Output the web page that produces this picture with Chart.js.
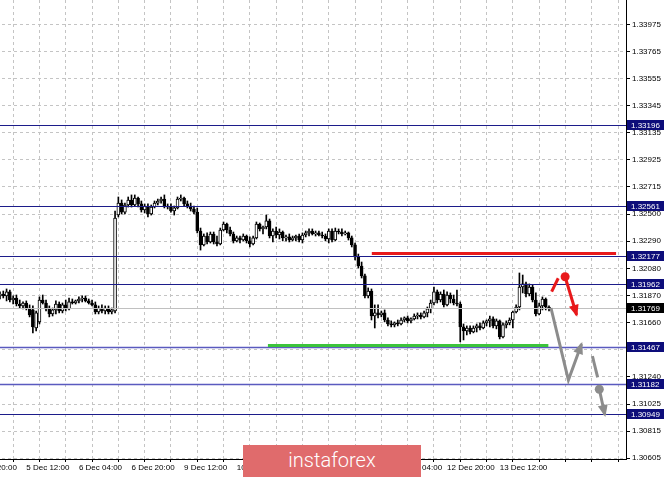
<!DOCTYPE html>
<html>
<head>
<meta charset="utf-8">
<title>H1 chart with levels</title>
<script src="https://cdn.jsdelivr.net/npm/chart.js@4.4.1/dist/chart.umd.min.js"></script>
<style>
  html, body { margin: 0; padding: 0; background: #fff; overflow: hidden; }
  #wrap { position: relative; width: 665px; height: 477px; overflow: hidden; }
  /* canvas starts 40px left of the window so the first, cut-off time label shows like in the terminal */
  #chartBox { position: absolute; left: -40px; top: 0; width: 705px; height: 477px; }
  #brand {
    position: absolute; left: 243px; top: 445px; width: 178px; height: 32px;
    background: #e06b6c; color: #fff; text-align: center; line-height: 31px;
    font-family: Roboto, sans-serif; font-weight: 300; font-size: 20px;
  }
</style>
</head>
<body>
<div id="wrap">
  <div id="chartBox"><canvas id="priceChart"></canvas></div>
  <div id="brand">instaforex</div>
</div>
<script>
// hourly candles, bar 0 = first bar on screen
const opens = [
    1.31866, 1.31881, 1.31866, 1.31897, 1.31834, 1.31850, 1.31803, 1.31788, 1.31811, 1.31772,
    1.31757, 1.31617, 1.31664, 1.31834, 1.31811, 1.31765, 1.31726, 1.31757, 1.31803, 1.31749,
    1.31796, 1.31765, 1.31819, 1.31811, 1.31827, 1.31842, 1.31850, 1.31827, 1.31811, 1.31796,
    1.31741, 1.31772, 1.31749, 1.31772, 1.31741, 1.31749, 1.32494, 1.32587, 1.32517, 1.32572,
    1.32611, 1.32572, 1.32626, 1.32580, 1.32533, 1.32564, 1.32502, 1.32556, 1.32587, 1.32603,
    1.32618, 1.32564, 1.32556, 1.32525, 1.32549, 1.32618, 1.32626, 1.32580, 1.32564, 1.32541,
    1.32517, 1.32370, 1.32262, 1.32331, 1.32285, 1.32347, 1.32285, 1.32269, 1.32378, 1.32424,
    1.32378, 1.32347, 1.32293, 1.32316, 1.32300, 1.32331, 1.32293, 1.32269, 1.32316, 1.32424,
    1.32386, 1.32401, 1.32448, 1.32331, 1.32370, 1.32339, 1.32362, 1.32316, 1.32324, 1.32300,
    1.32316, 1.32331, 1.32300, 1.32339, 1.32355, 1.32370, 1.32347, 1.32355, 1.32339, 1.32331,
    1.32308, 1.32370, 1.32300, 1.32370, 1.32362, 1.32347, 1.32355, 1.32316, 1.32262, 1.32168,
    1.32098, 1.32021, 1.31866, 1.31904, 1.31710, 1.31734, 1.31718, 1.31734, 1.31679, 1.31648,
    1.31641, 1.31656, 1.31648, 1.31679, 1.31695, 1.31672, 1.31687, 1.31710, 1.31718, 1.31703,
    1.31734, 1.31765, 1.31811, 1.31897, 1.31834, 1.31881, 1.31796, 1.31873, 1.31842, 1.31811,
    1.31803, 1.31625, 1.31594, 1.31617, 1.31586, 1.31617, 1.31633, 1.31617, 1.31656, 1.31672,
    1.31687, 1.31633, 1.31672, 1.31548, 1.31641, 1.31656, 1.31679, 1.31741, 1.31780, 1.31935,
    1.31959, 1.31881, 1.31935, 1.31834, 1.31726, 1.31788, 1.31842, 1.31780
];
const highs = [
    1.31897, 1.31904, 1.31920, 1.31912, 1.31866, 1.31873, 1.31834, 1.31819, 1.31827, 1.31796,
    1.31788, 1.31749, 1.31858, 1.31873, 1.31834, 1.31788, 1.31772, 1.31827, 1.31819, 1.31811,
    1.31834, 1.31850, 1.31842, 1.31834, 1.31858, 1.31866, 1.31866, 1.31842, 1.31834, 1.31819,
    1.31788, 1.31796, 1.31788, 1.31788, 1.31772, 1.32525, 1.32634, 1.32611, 1.32587, 1.32634,
    1.32650, 1.32650, 1.32634, 1.32603, 1.32580, 1.32580, 1.32572, 1.32603, 1.32618, 1.32634,
    1.32650, 1.32580, 1.32580, 1.32564, 1.32634, 1.32650, 1.32634, 1.32603, 1.32587, 1.32564,
    1.32549, 1.32393, 1.32347, 1.32355, 1.32362, 1.32362, 1.32331, 1.32393, 1.32440, 1.32432,
    1.32401, 1.32362, 1.32331, 1.32331, 1.32347, 1.32339, 1.32324, 1.32331, 1.32440, 1.32432,
    1.32409, 1.32494, 1.32463, 1.32386, 1.32401, 1.32386, 1.32370, 1.32339, 1.32347, 1.32331,
    1.32339, 1.32347, 1.32355, 1.32370, 1.32386, 1.32386, 1.32370, 1.32370, 1.32362, 1.32347,
    1.32386, 1.32386, 1.32393, 1.32386, 1.32386, 1.32370, 1.32362, 1.32331, 1.32277, 1.32191,
    1.32129, 1.32036, 1.31928, 1.31920, 1.31796, 1.31796, 1.31749, 1.31757, 1.31695, 1.31672,
    1.31664, 1.31679, 1.31695, 1.31703, 1.31710, 1.31695, 1.31726, 1.31734, 1.31734, 1.31749,
    1.31780, 1.31834, 1.31935, 1.31912, 1.31897, 1.31912, 1.31897, 1.31889, 1.31873, 1.31912,
    1.31819, 1.31648, 1.31633, 1.31633, 1.31633, 1.31648, 1.31656, 1.31672, 1.31679, 1.31710,
    1.31703, 1.31687, 1.31679, 1.31656, 1.31672, 1.31695, 1.31749, 1.31796, 1.32044, 1.32028,
    1.31974, 1.31959, 1.31951, 1.31889, 1.31811, 1.31858, 1.31850, 1.31788
];
const lows = [
    1.31842, 1.31850, 1.31827, 1.31819, 1.31803, 1.31788, 1.31772, 1.31765, 1.31757, 1.31703,
    1.31579, 1.31594, 1.31648, 1.31803, 1.31749, 1.31703, 1.31710, 1.31726, 1.31734, 1.31734,
    1.31749, 1.31757, 1.31803, 1.31803, 1.31811, 1.31819, 1.31819, 1.31803, 1.31788, 1.31726,
    1.31726, 1.31734, 1.31726, 1.31726, 1.31726, 1.31734, 1.32479, 1.32502, 1.32502, 1.32556,
    1.32556, 1.32564, 1.32556, 1.32517, 1.32510, 1.32479, 1.32494, 1.32549, 1.32572, 1.32587,
    1.32549, 1.32541, 1.32517, 1.32494, 1.32541, 1.32603, 1.32564, 1.32549, 1.32525, 1.32502,
    1.32355, 1.32222, 1.32254, 1.32269, 1.32277, 1.32269, 1.32254, 1.32262, 1.32370, 1.32355,
    1.32331, 1.32277, 1.32285, 1.32277, 1.32293, 1.32277, 1.32246, 1.32262, 1.32308, 1.32370,
    1.32347, 1.32386, 1.32316, 1.32285, 1.32316, 1.32308, 1.32293, 1.32293, 1.32285, 1.32293,
    1.32293, 1.32285, 1.32277, 1.32324, 1.32331, 1.32339, 1.32331, 1.32331, 1.32316, 1.32293,
    1.32277, 1.32285, 1.32293, 1.32347, 1.32331, 1.32339, 1.32300, 1.32246, 1.32145, 1.32083,
    1.32005, 1.31850, 1.31850, 1.31679, 1.31617, 1.31695, 1.31703, 1.31664, 1.31633, 1.31625,
    1.31625, 1.31633, 1.31641, 1.31664, 1.31656, 1.31656, 1.31679, 1.31687, 1.31687, 1.31695,
    1.31703, 1.31734, 1.31796, 1.31811, 1.31819, 1.31780, 1.31788, 1.31811, 1.31796, 1.31788,
    1.31509, 1.31524, 1.31563, 1.31571, 1.31579, 1.31586, 1.31602, 1.31610, 1.31633, 1.31625,
    1.31617, 1.31610, 1.31532, 1.31540, 1.31617, 1.31641, 1.31617, 1.31734, 1.31757, 1.31889,
    1.31858, 1.31866, 1.31819, 1.31710, 1.31718, 1.31757, 1.31757, 1.31749
];
const closes = [
    1.31881, 1.31866, 1.31897, 1.31834, 1.31850, 1.31803, 1.31788, 1.31811, 1.31772, 1.31718,
    1.31625, 1.31734, 1.31834, 1.31811, 1.31765, 1.31726, 1.31757, 1.31803, 1.31749, 1.31796,
    1.31765, 1.31819, 1.31811, 1.31827, 1.31842, 1.31850, 1.31827, 1.31811, 1.31796, 1.31741,
    1.31772, 1.31749, 1.31772, 1.31741, 1.31757, 1.32471, 1.32587, 1.32517, 1.32572, 1.32611,
    1.32572, 1.32626, 1.32580, 1.32533, 1.32564, 1.32502, 1.32556, 1.32587, 1.32603, 1.32618,
    1.32564, 1.32556, 1.32525, 1.32549, 1.32618, 1.32626, 1.32580, 1.32564, 1.32541, 1.32517,
    1.32370, 1.32262, 1.32331, 1.32285, 1.32347, 1.32285, 1.32269, 1.32378, 1.32424, 1.32378,
    1.32347, 1.32293, 1.32316, 1.32300, 1.32331, 1.32293, 1.32269, 1.32316, 1.32424, 1.32386,
    1.32401, 1.32448, 1.32331, 1.32370, 1.32339, 1.32362, 1.32316, 1.32324, 1.32300, 1.32316,
    1.32331, 1.32300, 1.32339, 1.32355, 1.32370, 1.32347, 1.32355, 1.32339, 1.32331, 1.32308,
    1.32370, 1.32300, 1.32370, 1.32362, 1.32347, 1.32355, 1.32316, 1.32262, 1.32168, 1.32098,
    1.32021, 1.31866, 1.31904, 1.31710, 1.31734, 1.31718, 1.31734, 1.31679, 1.31648, 1.31641,
    1.31656, 1.31648, 1.31679, 1.31695, 1.31672, 1.31687, 1.31710, 1.31718, 1.31703, 1.31734,
    1.31765, 1.31811, 1.31897, 1.31834, 1.31881, 1.31796, 1.31873, 1.31842, 1.31811, 1.31803,
    1.31625, 1.31594, 1.31617, 1.31586, 1.31617, 1.31633, 1.31617, 1.31656, 1.31672, 1.31687,
    1.31633, 1.31672, 1.31548, 1.31641, 1.31656, 1.31679, 1.31741, 1.31780, 1.31935, 1.31959,
    1.31881, 1.31935, 1.31834, 1.31726, 1.31788, 1.31842, 1.31780, 1.31769
];

const priceTicks = [
    1.33975, 1.33765, 1.33555, 1.33345, 1.33135, 1.32925, 1.32715, 1.32500, 1.32290,
    1.32080, 1.31870, 1.31660, 1.31450, 1.31240, 1.31025, 1.30815, 1.30605
];
const timeLabels = [
    '4 Dec 20:00', '5 Dec 12:00', '6 Dec 04:00', '6 Dec 20:00', '9 Dec 12:00', '10 Dec 04:00',
    '10 Dec 20:00', '11 Dec 12:00', '12 Dec 04:00', '12 Dec 20:00', '13 Dec 12:00'
];
const firstLabelBar = -8;   // bar index of '4 Dec 20:00'
const barsPerGrid = 8;

// horizontal levels
const levels = [1.33196, 1.32561, 1.32177, 1.31962, 1.31467, 1.31182, 1.30949];
const softLevels = [1.31467, 1.31182];
const lastPrice = 1.31769;

// drawn objects, [bar, price]
const redLine = [[113.1, 1.32195], [187.4, 1.32195]];
const greenLine = [[81.5, 1.31481], [166.8, 1.31481]];
const redStroke = [[167.8, 1.31899], [169.8, 1.32003]];
const redArrow = [[171.9, 1.32015], [175.4, 1.31718]];
const grayArrow = [[167.6, 1.31772], [172.9, 1.31213], [176.9, 1.31493]];
const grayStroke = [[180.2, 1.31399], [181.8, 1.31234]];
const grayArrow2 = [[182.3, 1.31141], [184.0, 1.30941]];

const toXY = (pts) => pts.map(p => ({ x: p[0], y: p[1] }));

const wickData = opens.map((o, i) => ({ x: i, y: [lows[i], highs[i]] }));
const bodyData = opens.map((o, i) => ({ x: i, y: [o, closes[i]] }));
const bodyColors = opens.map((o, i) => closes[i] >= o ? '#ffffff' : '#000000');

function objLine(pts, color, extra) {
    return Object.assign({
        type: 'line',
        data: toXY(pts),
        borderColor: color,
        backgroundColor: color,
        borderWidth: 3,
        pointRadius: 0,
        pointBorderWidth: 0,
        fill: false,
        tension: 0,
        order: 1
    }, extra || {});
}

const levelPlugin = {
    id: 'levelPlugin',
    afterDatasetDraw(chart, args) {
        if (args.index !== 1) return;
        const { ctx, chartArea } = chart;
        const y = chart.scales.y;
        ctx.save();
        ctx.lineWidth = 1;
        ctx.strokeStyle = '#c0c0c0';
        let py = Math.round(y.getPixelForValue(lastPrice)) + 0.5;
        ctx.beginPath(); ctx.moveTo(chartArea.left, py); ctx.lineTo(chartArea.right, py); ctx.stroke();
        levels.forEach(v => {
            const soft = softLevels.includes(v);
            ctx.strokeStyle = soft ? '#5a5abf' : '#1c1c8a';
            ctx.lineWidth = soft ? 1.5 : 1;
            py = Math.round(y.getPixelForValue(v)) + 0.5;
            ctx.beginPath(); ctx.moveTo(chartArea.left, py); ctx.lineTo(chartArea.right, py); ctx.stroke();
        });
        ctx.restore();
    },
    afterDraw(chart) {
        const { ctx, chartArea } = chart;
        const y = chart.scales.y;
        ctx.save();
        ctx.font = "8px 'Liberation Sans', Arial, sans-serif";
        ctx.textBaseline = 'middle';
        const tag = (v, bg) => {
            const py = Math.round(y.getPixelForValue(v));
            ctx.fillStyle = bg;
            ctx.fillRect(chartArea.right + 1, py - 5, 37, 10);
            ctx.fillStyle = '#ffffff';
            ctx.fillText(v.toFixed(5), chartArea.right + 5, py + 0.5);
        };
        levels.forEach(v => tag(v, '#0d0d7a'));
        tag(lastPrice, '#000000');
        ctx.restore();
    }
};

const arrowPlugin = {
    id: 'arrowPlugin',
    afterDatasetDraw(chart, args) {
        const ds = chart.data.datasets[args.index];
        if (!ds.arrow) return;
        const pts = args.meta.data;
        const a = pts[pts.length - 2], b = pts[pts.length - 1];
        const dx = b.x - a.x, dy = b.y - a.y;
        const len = Math.sqrt(dx * dx + dy * dy);
        const ux = dx / len, uy = dy / len;
        const tipX = b.x + ux * 2, tipY = b.y + uy * 2;
        const bx = tipX - ux * 12, by = tipY - uy * 12;
        const ctx = chart.ctx;
        ctx.save();
        ctx.fillStyle = ds.borderColor;
        ctx.beginPath();
        ctx.moveTo(tipX, tipY);
        ctx.lineTo(bx - uy * 5, by + ux * 5);
        ctx.lineTo(bx + uy * 5, by - ux * 5);
        ctx.closePath();
        ctx.fill();
        ctx.restore();
    }
};

Chart.defaults.font.family = "'Liberation Sans', Arial, sans-serif";
Chart.defaults.font.size = 8;
Chart.defaults.color = '#000';

const ctx = document.getElementById('priceChart');
new Chart(ctx, {
    type: 'bar',
    data: {
        datasets: [{
            label: 'wicks',
            data: wickData,
            backgroundColor: '#000000',
            borderWidth: 0,
            barThickness: 1,
            grouped: false,
            order: 6
        }, {
            label: 'bodies',
            data: bodyData,
            backgroundColor: bodyColors,
            borderColor: '#000000',
            borderWidth: 1,
            borderSkipped: false,
            barThickness: 3,
            minBarLength: 1,
            grouped: false,
            order: 5
        },
        objLine(redLine, '#e8191b'),
        objLine(greenLine, '#3cc43c'),
        objLine(redStroke, '#e8191b'),
        objLine(redArrow, '#e8191b', { pointRadius: [4.5, 0], arrow: true }),
        objLine(grayArrow, '#8c8c8c', { arrow: true }),
        objLine(grayStroke, '#8c8c8c'),
        objLine(grayArrow2, '#8c8c8c', { pointRadius: [4.5, 0], arrow: true })
        ]
    },
    options: {
        responsive: true,
        maintainAspectRatio: false,
        animation: false,
        events: [],
        layout: { padding: 0, autoPadding: false },
        plugins: {
            legend: { display: false },
            tooltip: { enabled: false }
        },
        scales: {
            x: {
                type: 'linear',
                min: -12.167,
                max: 190.42,
                offset: false,
                grid: { color: '#c4c4c4', tickColor: '#000', tickLength: 3 },
                border: { color: '#000', width: 1, dash: [3, 3] },
                ticks: {
                    autoSkip: false,
                    maxRotation: 0,
                    align: 'start',
                    padding: 1,
                    callback: function (v) {
                        const k = (v - firstLabelBar) / (2 * barsPerGrid);
                        return Number.isInteger(k) && k < timeLabels.length ? timeLabels[k] : '';
                    }
                },
                afterBuildTicks: function (scale) {
                    const t = [];
                    for (let v = firstLabelBar; v <= scale.max; v += barsPerGrid) t.push({ value: v });
                    scale.ticks = t;
                },
                afterFit: function (scale) {
                    scale.height = 18;
                    scale.paddingLeft = 0;
                    scale.paddingRight = 0;
                }
            },
            y: {
                position: 'right',
                min: 1.305995,
                max: 1.341637,
                grid: { color: '#c4c4c4', tickColor: '#000', tickLength: 4 },
                border: { color: '#000', width: 1, dash: [3, 3] },
                ticks: {
                    autoSkip: false,
                    padding: 2,
                    callback: (v) => v.toFixed(5)
                },
                afterBuildTicks: function (scale) {
                    scale.ticks = priceTicks.map(v => ({ value: v }));
                },
                afterFit: function (scale) {
                    scale.width = 39;
                    scale.paddingTop = 0;
                    scale.paddingBottom = 0;
                }
            }
        }
    },
    plugins: [levelPlugin, arrowPlugin]
});
</script>
</body>
</html>
